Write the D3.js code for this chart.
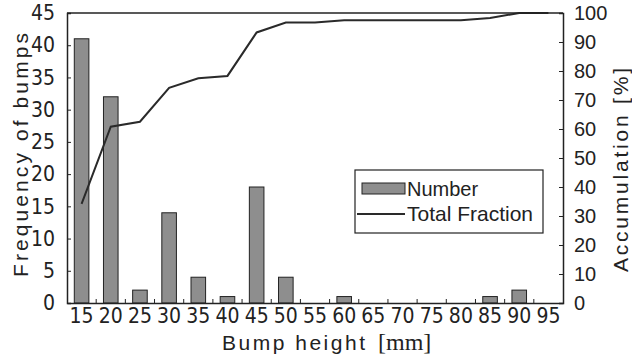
<!DOCTYPE html>
<html>
<head>
<meta charset="utf-8">
<script src="https://cdn.jsdelivr.net/npm/d3@7/dist/d3.min.js"></script>
<style>
  html, body { margin: 0; padding: 0; background: #fff; }
  svg { display: block; }
  .narrow { font-family: "Liberation Sans Narrow", "DejaVu Sans Condensed", "Liberation Sans", sans-serif; }
  .reg { font-family: "Liberation Sans", Arial, sans-serif; }
</style>
</head>
<body>
<svg id="chart" width="632" height="356"></svg>
<script>
// Bump height classes (mm)
const heights = ["15","20","25","30","35","40","45","50","55","60","65","70","75","80","85","90","95"];
// Number of bumps in each class
const counts = [41, 32, 2, 14, 4, 1, 18, 4, 0, 1, 0, 0, 0, 0, 1, 2, 0];
// Accumulated fraction (%)
const totalFraction = [34.2, 60.8, 62.5, 74.2, 77.5, 78.3, 93.3, 96.7, 96.7, 97.5, 97.5, 97.5, 97.5, 97.5, 98.3, 100, 100];
// Axis ticks
const leftTicks = [0, 5, 10, 15, 20, 25, 30, 35, 40, 45];
const rightTicks = [0, 10, 20, 30, 40, 50, 60, 70, 80, 90, 100];

const ink = "#222";
const svg = d3.select("#chart");
const L = 67, R = 563, T = 13, B = 303;

const x = d3.scaleBand().domain(heights).range([L, R]).paddingInner(0.5).paddingOuter(0.25);
const yL = d3.scaleLinear().domain([0, 45]).range([B, T]);
const yR = d3.scaleLinear().domain([0, 100]).range([B, T]);

// Bars
svg.append("g").selectAll("rect")
  .data(counts.map((c, i) => ({ h: heights[i], c })))
  .join("rect")
  .attr("x", d => x(d.h))
  .attr("y", d => yL(d.c))
  .attr("width", x.bandwidth())
  .attr("height", d => B - yL(d.c))
  .attr("fill", "#8e8e8e")
  .attr("stroke", ink)
  .attr("stroke-width", 1);

// Cumulative line
const line = d3.line()
  .x((d, i) => x(heights[i]) + x.bandwidth() / 2)
  .y(d => yR(d));
svg.append("path")
  .datum(totalFraction)
  .attr("d", line)
  .attr("fill", "none")
  .attr("stroke", "#2a2a2a")
  .attr("stroke-width", 2);

// Left axis
const gL = svg.append("g").attr("transform", `translate(${L},0)`)
  .call(d3.axisLeft(yL).tickValues(leftTicks).tickSize(-4).tickPadding(12));
gL.selectAll("text").attr("class", "narrow").style("font-size", "21px").attr("fill", ink);

// Right axis
const gR = svg.append("g").attr("transform", `translate(${R},0)`)
  .call(d3.axisRight(yR).tickValues(rightTicks).tickSize(-4).tickPadding(11));
gR.selectAll("text").attr("class", "reg").style("font-size", "20px").attr("fill", ink);

// Bottom axis
const gB = svg.append("g").attr("transform", `translate(0,${B})`)
  .call(d3.axisBottom(x).tickSize(0).tickPadding(5));
gB.selectAll("text").attr("class", "narrow").style("font-size", "21px").attr("fill", ink);

// Small ticks between classes
const bounds = heights.slice(0, -1).map(h => x(h) + x.bandwidth() + (x.step() - x.bandwidth()) / 2);
svg.append("g").selectAll("line").data(bounds).join("line")
  .attr("x1", d => d).attr("x2", d => d)
  .attr("y1", B).attr("y2", B - 4)
  .attr("stroke", ink).attr("stroke-width", 1);

[gL, gR, gB].forEach(g => {
  g.select(".domain").attr("stroke", ink).attr("stroke-width", 1.5);
  g.selectAll(".tick line").attr("stroke", ink);
});

// Top frame line
svg.append("line").attr("x1", L).attr("x2", R).attr("y1", T).attr("y2", T)
  .attr("stroke", ink).attr("stroke-width", 1.5);

// Axis titles
svg.append("text")
  .attr("class", "reg")
  .attr("transform", "translate(28,155) rotate(-90)")
  .attr("text-anchor", "middle")
  .attr("textLength", 244)
  .style("font-size", "21px")
  .attr("fill", ink)
  .text("Frequency of bumps");

svg.append("text")
  .attr("class", "reg")
  .attr("transform", "translate(628,170) rotate(-90)")
  .attr("text-anchor", "middle")
  .attr("textLength", 204)
  .style("font-size", "21px")
  .attr("fill", ink)
  .text("Accumulation [%]");

svg.append("text")
  .attr("class", "reg")
  .attr("x", 222).attr("y", 350)
  .attr("textLength", 143)
  .style("font-size", "21px")
  .attr("fill", ink)
  .text("Bump height");

svg.append("text")
  .attr("x", 378).attr("y", 350)
  .style("font-family", "'Liberation Serif', 'DejaVu Serif', serif")
  .style("font-size", "24px")
  .attr("fill", ink)
  .text("[mm]");

// Legend
const lg = svg.append("g");
lg.append("rect").attr("x", 355).attr("y", 170).attr("width", 188).attr("height", 63)
  .attr("fill", "#fff").attr("stroke", ink).attr("stroke-width", 1.2);
lg.append("rect").attr("x", 362).attr("y", 183).attr("width", 43).attr("height", 11)
  .attr("fill", "#8e8e8e").attr("stroke", ink).attr("stroke-width", 1);
lg.append("text").attr("class", "reg").attr("x", 407).attr("y", 196)
  .style("font-size", "20px").attr("fill", ink).text("Number");
lg.append("line").attr("x1", 357).attr("x2", 405).attr("y1", 214).attr("y2", 214)
  .attr("stroke", "#2a2a2a").attr("stroke-width", 2);
lg.append("text").attr("class", "reg").attr("x", 407).attr("y", 221)
  .style("font-size", "21px").attr("fill", ink).text("Total Fraction");
</script>
</body>
</html>
